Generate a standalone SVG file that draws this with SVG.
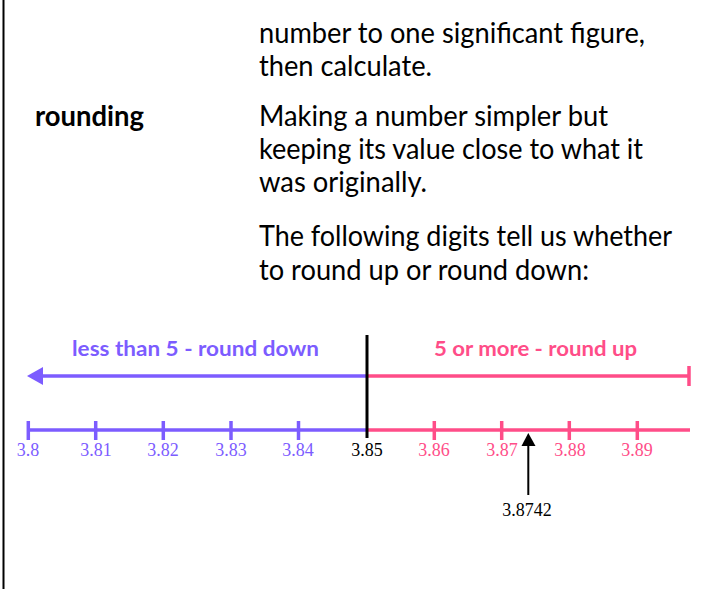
<svg xmlns="http://www.w3.org/2000/svg" width="708" height="589" viewBox="0 0 708 589">
<style>
.body{font-family:Lato,"Liberation Sans",sans-serif;font-size:29px;fill:#000}
.bold{font-weight:700}
.nl{font-family:Lato,"Open Sans",sans-serif;font-size:20px;font-weight:700}
.lab{font-family:"Liberation Serif","DejaVu Serif",serif;font-size:18px;text-anchor:middle}
.pu{fill:#7c5cff}
.pk{fill:#ff4d88}
.bk{fill:#000}
.sp{stroke:#7c5cff;stroke-width:3.5;fill:none}
.sk{stroke:#ff4d88;stroke-width:3.5;fill:none}
</style>
<rect width="708" height="589" fill="#fff"/>
<line x1="3.5" y1="0" x2="3.5" y2="589" stroke="#000" stroke-width="2"/>
<g id="text-block">
<text class="body" x="259" y="43" textLength="386" lengthAdjust="spacingAndGlyphs">number to one significant figure,</text>
<text class="body" x="259" y="76" textLength="173" lengthAdjust="spacingAndGlyphs">then calculate.</text>
<text class="body bold" x="35" y="126" textLength="109" lengthAdjust="spacingAndGlyphs">rounding</text>
<text class="body" x="259" y="126" textLength="349" lengthAdjust="spacingAndGlyphs">Making a number simpler but</text>
<text class="body" x="259" y="159" textLength="384" lengthAdjust="spacingAndGlyphs">keeping its value close to what it</text>
<text class="body" x="259" y="192" textLength="168" lengthAdjust="spacingAndGlyphs">was originally.</text>
<text class="body" x="259" y="246" textLength="413" lengthAdjust="spacingAndGlyphs">The following digits tell us whether</text>
<text class="body" x="259" y="280" textLength="330" lengthAdjust="spacingAndGlyphs">to round up or round down:</text>
</g>
<g id="number-line">
<text class="nl pu" x="72" y="356" textLength="247" lengthAdjust="spacingAndGlyphs">less than 5 - round down</text>
<text class="nl pk" x="434" y="356" textLength="203" lengthAdjust="spacingAndGlyphs">5 or more - round up</text>
<line class="sp" x1="38" y1="376" x2="367" y2="376"/>
<polygon points="27,376 43,367 43,385" fill="#7c5cff"/>
<line class="sk" x1="367" y1="376" x2="689" y2="376"/>
<line class="sk" x1="689" y1="366" x2="689" y2="386" stroke-width="4"/>
<line class="sp" x1="28" y1="430" x2="367" y2="430"/>
<line class="sk" x1="367" y1="430" x2="690" y2="430"/>
<g class="sp">
<line x1="28.3" y1="421" x2="28.3" y2="440"/>
<line x1="95.7" y1="421" x2="95.7" y2="440"/>
<line x1="163.3" y1="421" x2="163.3" y2="440"/>
<line x1="231" y1="421" x2="231" y2="440"/>
<line x1="298.5" y1="421" x2="298.5" y2="440"/>
</g>
<g class="sk">
<line x1="434.3" y1="421" x2="434.3" y2="440"/>
<line x1="501.7" y1="421" x2="501.7" y2="440"/>
<line x1="569.3" y1="421" x2="569.3" y2="440"/>
<line x1="637.3" y1="421" x2="637.3" y2="440"/>
</g>
<line x1="367" y1="335" x2="367" y2="438" stroke="#000" stroke-width="3"/>
<text class="lab pu" x="28" y="456">3.8</text>
<text class="lab pu" x="96" y="456">3.81</text>
<text class="lab pu" x="163" y="456">3.82</text>
<text class="lab pu" x="231" y="456">3.83</text>
<text class="lab pu" x="298" y="456">3.84</text>
<text class="lab bk" x="367" y="456">3.85</text>
<text class="lab pk" x="434" y="456">3.86</text>
<text class="lab pk" x="502" y="456">3.87</text>
<text class="lab pk" x="570" y="456">3.88</text>
<text class="lab pk" x="637" y="456">3.89</text>
</g>
<g id="pointer">
<line x1="528.3" y1="443" x2="528.3" y2="495" stroke="#000" stroke-width="2"/>
<polygon points="528.3,433 521.5,446 535.5,446" fill="#000"/>
<text class="lab bk" x="527" y="516">3.8742</text>
</g>
</svg>
